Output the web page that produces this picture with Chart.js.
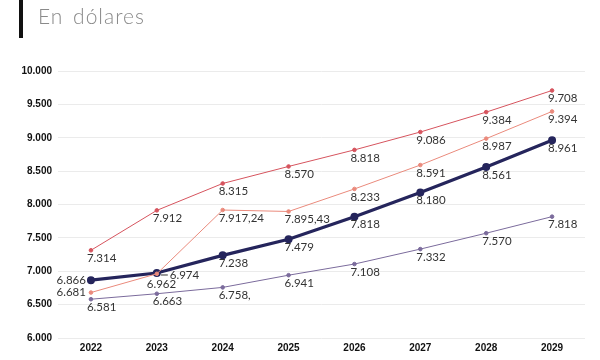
<!DOCTYPE html>
<html>
<head>
<meta charset="utf-8">
<script src="https://cdn.jsdelivr.net/npm/chart.js@4.4.1/dist/chart.umd.min.js"></script>
<style>
  html, body { margin: 0; padding: 0; background: #fff; }
  #wrap { position: relative; width: 600px; height: 360px; }
  #bar { position: absolute; left: 19px; top: 0; width: 4px; height: 38px; background: #111; }
  #title { position: absolute; left: 38px; top: 3px; font-family: Lato, sans-serif; font-weight: 300;
           font-size: 21px; color: #8a8a8a; letter-spacing: 1px; word-spacing: 3px; }
  #charty { position: absolute; left: 0; top: 0; }
</style>
</head>
<body>
<div id="wrap">
  <canvas id="charty" width="600" height="360"></canvas>
  <div id="bar"></div>
  <div id="title">En dólares</div>
</div>
<script>
		// x-axis categories
		var years = ["2022", "2023", "2024", "2025", "2026", "2027", "2028", "2029"];
		// y-axis ticks
		var yTicks = [6000, 6500, 7000, 7500, 8000, 8500, 9000, 9500, 10000];

		// series values
		var upper = [7314, 7912, 8315, 8570, 8818, 9086, 9384, 9708];
		var middle = [6681, 6962, 7917.24, 7895.43, 8233, 8591, 8987, 9394];
		var base = [6866, 6974, 7238, 7479, 7818, 8180, 8561, 8961];
		var lower = [6581, 6663, 6758, 6941, 7108, 7332, 7570, 7818];

		// point labels as printed
		var upperText = ["7.314", "7.912", "8.315", "8.570", "8.818", "9.086", "9.384", "9.708"];
		var middleText = ["6.681", "6.962", "7.917,24", "7.895,43", "8.233", "8.591", "8.987", "9.394"];
		var baseText = ["6.866", "6.974", "7.238", "7.479", "7.818", "8.180", "8.561", "8.961"];
		var lowerText = ["6.581", "6.663", "6.758,", "6.941", "7.108", "7.332", "7.570", "7.818"];

		function fmt(v) {
			return v.toLocaleString('de-DE');
		}

		// draws the value labels next to each point
		var pointLabels = {
			id: 'pointLabels',
			afterDatasetsDraw: function (chart) {
				var ctx = chart.ctx;
				ctx.save();
				ctx.font = '11.5px Lato, sans-serif';
				ctx.fillStyle = '#333';
				ctx.textBaseline = 'middle';
				chart.data.datasets.forEach(function (ds, di) {
					var meta = chart.getDatasetMeta(di);
					meta.data.forEach(function (pt, i) {
						var txt = ds.texts[i];
						var pos = (ds.places && ds.places[i]) || 'below';
						if (pos === 'left') {
							ctx.textAlign = 'right';
							ctx.fillText(txt, pt.x - 5, pt.y);
						} else if (pos === 'right') {
							ctx.textAlign = 'left';
							ctx.strokeStyle = '#333';
							ctx.lineWidth = 1;
							ctx.beginPath();
							ctx.moveTo(pt.x + 4, pt.y + 2);
							ctx.lineTo(pt.x + 11, pt.y + 2);
							ctx.stroke();
							ctx.fillText(txt, pt.x + 13, pt.y + 2);
						} else if (pos === 'below2') {
							ctx.textAlign = 'left';
							ctx.fillText(txt, pt.x - 10, pt.y + 11);
						} else {
							ctx.textAlign = 'left';
							ctx.fillText(txt, pt.x - 4, pt.y + 8);
						}
					});
				});
				ctx.restore();
			}
		};

		var charty = document.getElementById('charty').getContext('2d');
		var myChart = new Chart(charty, {
			type: 'line',
			data: {
				labels: years,
				datasets: [{
					data: upper,
					texts: upperText,
					borderColor: 'rgb(214, 84, 94)',
					backgroundColor: 'rgb(214, 84, 94)',
					borderWidth: 1,
					pointRadius: 1.8
				}, {
					data: middle,
					texts: middleText,
					places: ['left', 'below2'],
					borderColor: 'rgb(234, 138, 124)',
					backgroundColor: 'rgb(234, 138, 124)',
					borderWidth: 1,
					pointRadius: 1.8
				}, {
					data: base,
					texts: baseText,
					places: ['left', 'right'],
					borderColor: '#25255c',
					backgroundColor: '#25255c',
					borderWidth: 3.2,
					pointRadius: 2.4
				}, {
					data: lower,
					texts: lowerText,
					borderColor: '#7b6b9c',
					backgroundColor: '#7b6b9c',
					borderWidth: 1,
					pointRadius: 1.8
				}]
			},
			options: {
				responsive: false,
				animation: false,
				layout: { padding: { top: 71, right: 15, left: 0, bottom: 0 } },
				plugins: {
					legend: { display: false },
					tooltip: { enabled: false }
				},
				scales: {
					x: {
						offset: true,
						grid: { display: false, drawTicks: false },
						border: { display: false },
						ticks: { color: '#111', font: { family: 'Liberation Sans', size: 10, weight: 'bold' }, padding: 4 },
						afterFit: function (s) { s.height = 22; }
					},
					y: {
						min: 6000,
						max: 10000,
						border: { display: false },
						grid: { color: '#ebebeb', drawTicks: false },
						afterBuildTicks: function (s) { s.ticks = yTicks.map(function (v) { return { value: v }; }); },
						ticks: {
							color: '#111',
							padding: 6,
							font: { family: 'Liberation Sans', size: 10, weight: 'bold' },
							callback: function (v) { return fmt(v); }
						},
						afterFit: function (s) { s.width = 58; }
					}
				}
			},
			plugins: [pointLabels]
		});
</script>
</body>
</html>
